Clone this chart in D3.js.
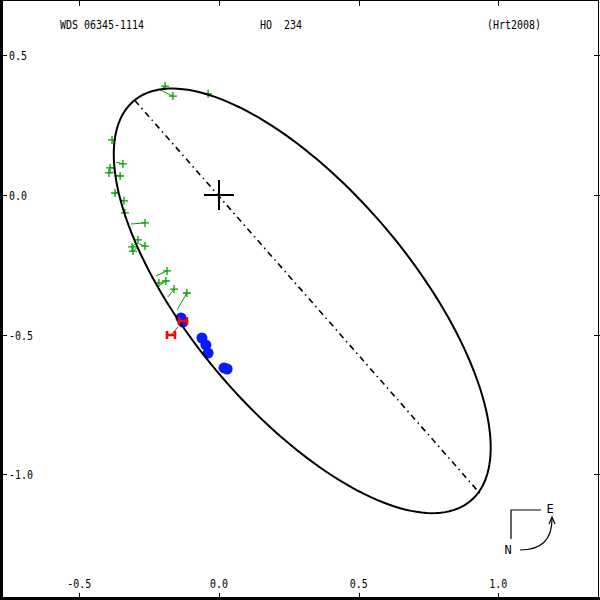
<!DOCTYPE html>
<html>
<head>
<meta charset="utf-8">
<script src="https://cdn.jsdelivr.net/npm/d3@7"></script>
<style>
  html, body { margin: 0; padding: 0; background: #fff; }
  svg { display: block; }
  text { font-family: "DejaVu Sans Mono", monospace; font-size: 12px; fill: #000; }
</style>
</head>
<body>
<svg id="orbit" width="600" height="600"></svg>
<script>
// header texts
const titleTexts = ["WDS 06345-1114", "HO  234", "(Hrt2008)"];

// axis ticks (arcsec)
const xTicks = [-0.5, 0.0, 0.5, 1.0];
const yTicks = [0.5, 0.0, -0.5, -1.0];

// apparent orbit: center x, center y, semi-major, semi-minor, angle (deg)
const orbitEllipse = [0.298, -0.379, 0.936, 0.396, -49.9];

// line of apsides: periastron, apastron
const apsides = [[-0.301, 0.338], [0.934, -1.068]];

// micrometer measures: observed x, y, computed x, y
const greenObs = [
  [-0.193, 0.390, -0.204, 0.380],
  [-0.165, 0.354, -0.211, 0.376],
  [-0.039, 0.362, -0.021, 0.351],
  [-0.383, 0.197, -0.380, 0.197],
  [-0.344, 0.111, -0.369, 0.118],
  [-0.390, 0.097, -0.376, 0.097],
  [-0.394, 0.079, -0.376, 0.082],
  [-0.354, 0.068, -0.372, 0.072],
  [-0.372, 0.007, -0.362, 0.011],
  [-0.340, -0.021, -0.351, -0.018],
  [-0.337, -0.064, -0.340, -0.054],
  [-0.265, -0.100, -0.315, -0.104],
  [-0.290, -0.161, -0.294, -0.161],
  [-0.311, -0.186, -0.297, -0.172],
  [-0.308, -0.201, -0.290, -0.186],
  [-0.265, -0.183, -0.286, -0.175],
  [-0.186, -0.272, -0.226, -0.290],
  [-0.190, -0.308, -0.211, -0.322],
  [-0.215, -0.315, -0.218, -0.312],
  [-0.161, -0.337, -0.183, -0.365],
  [-0.115, -0.351, -0.150, -0.412]
];

// speckle measures
const blueObs = [
  [-0.136, -0.440], [-0.129, -0.455], [-0.061, -0.512], [-0.047, -0.537],
  [-0.039, -0.566], [0.018, -0.619], [0.029, -0.623]
];

// Hipparcos: observed x, y, computed x, y
const redObs = [
  [-0.172, -0.501, -0.147, -0.473],
  [-0.129, -0.451, -0.129, -0.451]
];

const W = 600, H = 600;
const svg = d3.select("#orbit");

const x = d3.scaleLinear().domain([-0.784, 1.364]).range([0, W]);
const y = d3.scaleLinear().domain([0.698, -1.450]).range([0, H]);

const green = "#00a000", blue = "#0a1aff", red = "#ff0000";

// frame
svg.append("rect")
  .attr("x", 0.5).attr("y", 0.5)
  .attr("width", W - 2).attr("height", H - 2)
  .attr("fill", "none").attr("stroke", "#000").attr("stroke-width", 1);
svg.append("line").attr("x1", 1.5).attr("x2", 1.5).attr("y1", 0).attr("y2", H)
  .attr("stroke", "#000").attr("stroke-width", 3);
svg.append("line").attr("x1", 0).attr("x2", W).attr("y1", H - 1.5).attr("y2", H - 1.5)
  .attr("stroke", "#000").attr("stroke-width", 3);

const fmt = v => v.toFixed(1);

// x ticks top and bottom
xTicks.forEach(v => {
  const px = Math.round(x(v)) + 0.5;
  svg.append("line").attr("x1", px).attr("x2", px).attr("y1", 0).attr("y2", 6)
    .attr("stroke", "#000");
  svg.append("line").attr("x1", px).attr("x2", px).attr("y1", H).attr("y2", H - 7)
    .attr("stroke", "#000");
  const s = fmt(v);
  svg.append("text")
    .attr("x", x(v)).attr("y", 588)
    .attr("text-anchor", "middle")
    .attr("textLength", s.length * 6).attr("lengthAdjust", "spacingAndGlyphs")
    .text(s);
});

// y ticks left and right
yTicks.forEach(v => {
  const py = Math.round(y(v)) + 0.5;
  svg.append("line").attr("x1", 0).attr("x2", 7).attr("y1", py).attr("y2", py)
    .attr("stroke", "#000");
  svg.append("line").attr("x1", W).attr("x2", W - 6).attr("y1", py).attr("y2", py)
    .attr("stroke", "#000");
  const s = fmt(v);
  svg.append("text")
    .attr("x", 9).attr("y", y(v) + 5)
    .attr("textLength", s.length * 6).attr("lengthAdjust", "spacingAndGlyphs")
    .text(s);
});

// header
const titleX = [60, 260, 487];
titleTexts.forEach((t, i) => {
  svg.append("text")
    .attr("x", titleX[i]).attr("y", 29)
    .attr("textLength", t.length * 6).attr("lengthAdjust", "spacingAndGlyphs")
    .attr("xml:space", "preserve")
    .style("white-space", "pre")
    .text(t);
});

// green measures
const gG = svg.append("g").attr("stroke", green).attr("fill", "none");
greenObs.forEach(d => {
  gG.append("line")
    .attr("x1", x(d[0])).attr("y1", y(d[1]))
    .attr("x2", x(d[2])).attr("y2", y(d[3]))
    .attr("stroke-width", 1);
  gG.append("path")
    .attr("d", `M${x(d[0]) - 4},${y(d[1])}h8M${x(d[0])},${y(d[1]) - 4}v8`)
    .attr("stroke-width", 1.3);
});

// blue measures
svg.append("g").selectAll("circle")
  .data(blueObs)
  .join("circle")
  .attr("cx", d => x(d[0]))
  .attr("cy", d => y(d[1]))
  .attr("r", 5.5)
  .attr("fill", blue);

// apparent orbit
const ts = d3.range(0, 361, 2).map(t => t * Math.PI / 180);
const [ecx, ecy, ea, eb, eang] = orbitEllipse;
const th = eang * Math.PI / 180;
const orbitPts = ts.map(t => [
  ecx + ea * Math.cos(th) * Math.cos(t) - eb * Math.sin(th) * Math.sin(t),
  ecy + ea * Math.sin(th) * Math.cos(t) + eb * Math.cos(th) * Math.sin(t)
]);
svg.append("path")
  .datum(orbitPts)
  .attr("fill", "none")
  .attr("stroke", "#000")
  .attr("stroke-width", 2)
  .attr("d", d3.line().x(d => x(d[0])).y(d => y(d[1])).curve(d3.curveLinearClosed));

// line of apsides
svg.append("line")
  .attr("x1", x(apsides[0][0])).attr("y1", y(apsides[0][1]))
  .attr("x2", x(apsides[1][0])).attr("y2", y(apsides[1][1]))
  .attr("stroke", "#000").attr("stroke-width", 1.6)
  .attr("stroke-dasharray", "6,4,1.5,4");

// primary
svg.append("path")
  .attr("d", `M${x(0) - 15},${y(0)}h30M${x(0)},${y(0) - 15}v30`)
  .attr("stroke", "#000").attr("stroke-width", 2);

// red Hipparcos
const gR = svg.append("g").attr("stroke", red).attr("fill", "none");
redObs.forEach(d => {
  gR.append("line")
    .attr("x1", x(d[0])).attr("y1", y(d[1]))
    .attr("x2", x(d[2])).attr("y2", y(d[3]))
    .attr("stroke-width", 1);
  const cx = x(d[0]), cy = y(d[1]);
  gR.append("path")
    .attr("d", `M${cx - 4},${cy - 4}v8M${cx + 4},${cy - 4}v8M${cx - 4},${cy}h8`)
    .attr("stroke-width", 2.5);
});

// compass
const comp = svg.append("g").attr("fill", "none").attr("stroke", "#000").attr("stroke-width", 1.2);
comp.append("path").attr("d", "M541,510H511V539");
comp.append("path").attr("d", "M520,550Q552,550 552,519");
comp.append("path").attr("d", "M549,524L552,517L555,524");
svg.append("text").attr("x", 508).attr("y", 554).attr("text-anchor", "middle").text("N");
svg.append("text").attr("x", 550).attr("y", 513).attr("text-anchor", "middle").text("E");
</script>
</body>
</html>
